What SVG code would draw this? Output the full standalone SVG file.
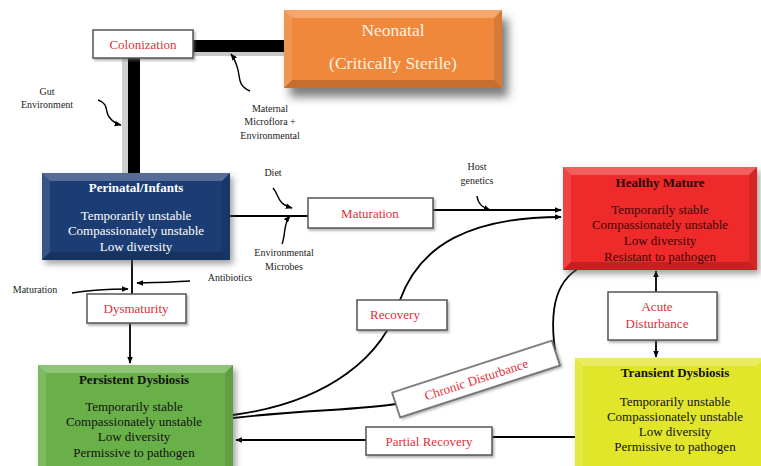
<svg xmlns="http://www.w3.org/2000/svg" width="761" height="466" viewBox="0 0 761 466" font-family="'Liberation Serif', 'DejaVu Serif', serif">
<defs>
<filter id="sh" x="-10%" y="-10%" width="130%" height="140%"><feDropShadow dx="3" dy="4" stdDeviation="3" flood-color="#555" flood-opacity="0.55"/></filter>
<filter id="shBig" x="-10%" y="-20%" width="130%" height="160%"><feDropShadow dx="6" dy="9" stdDeviation="5" flood-color="#444" flood-opacity="0.7"/></filter>
<filter id="shSm" x="-10%" y="-20%" width="130%" height="160%"><feDropShadow dx="1.5" dy="2" stdDeviation="1.2" flood-color="#666" flood-opacity="0.5"/></filter>
<marker id="ah" viewBox="0 0 10 10" refX="9" refY="5" markerWidth="7" markerHeight="7" orient="auto-start-reverse" markerUnits="userSpaceOnUse"><path d="M0,1 L10,5 L0,9 Z" fill="#000"/></marker>
</defs>
<style>
text{font-family:"Liberation Serif","DejaVu Serif",serif;text-anchor:middle}
.lbl{fill:#E0303A;font-size:13px;font-family:"Liberation Serif","DejaVu Serif",serif}
.sm{fill:#222;font-size:10px;font-family:"Liberation Serif","DejaVu Serif",serif}
.wbox{fill:#fff;stroke:#555;stroke-width:1.5}
.ln{fill:none;stroke:#000;stroke-width:1.8}
.cv{fill:none;stroke:#000;stroke-width:1.4}
.hi{fill:#fff;opacity:.25}
.hi2{fill:#fff;opacity:.12}
.lo{fill:#000;opacity:.18}
.lo2{fill:#000;opacity:.1}
.t{font-size:13px;font-family:"Liberation Serif","DejaVu Serif",serif}
.tb{font-size:13px;font-weight:bold;font-family:"Liberation Serif","DejaVu Serif",serif}
.big{font-size:17.5px;fill:#FDF1E0;font-family:"Liberation Serif","DejaVu Serif",serif}
</style>
<rect width="761" height="466" fill="#fff"/>

<g id="connectors">
<rect x="122" y="56" width="6" height="118" fill="#cfcfcf"/>
<rect x="128" y="54" width="12" height="120" fill="#000"/>
<rect x="192" y="52" width="92" height="4" fill="#c8c8c8"/>
<rect x="192" y="40" width="92" height="12" fill="#000"/>
<path class="cv" d="M98,100 C110,104 104,112 110,118 C113,122 117,124 121,125" marker-end="url(#ah)"/>
<path class="cv" d="M250,91 C238,86 240,78 238,70 C236,62 234,58 231,54" marker-end="url(#ah)"/>
<line class="ln" x1="230" y1="216" x2="308" y2="216"/>
<path class="cv" d="M273,188 C280,196 276,203 292,208" marker-end="url(#ah)"/>
<path class="cv" d="M282,244 C286,234 283,224 290,216" marker-end="url(#ah)"/>
<line class="ln" x1="433" y1="210" x2="561" y2="210" marker-end="url(#ah)"/>
<path class="cv" d="M477,196 C478,204 482,207 490,210" marker-end="url(#ah)"/>
<line class="ln" x1="132" y1="260" x2="132" y2="294"/>
<path class="cv" d="M72,293 C90,290 105,289 128,289" marker-end="url(#ah)"/>
<path class="cv" d="M190,281 C170,282 155,283 137,283" marker-end="url(#ah)"/>
<line class="ln" x1="130" y1="323" x2="130" y2="363" marker-end="url(#ah)"/>
<path class="ln" d="M233,415 C330,402 385,355 400,300 C420,245 470,217 561,217" marker-end="url(#ah)"/>
<path class="ln" d="M233,418 C300,410 360,410 396,404"/>
<path class="ln" d="M555,350 C548,300 560,272 593,262" marker-end="url(#ah)"/>
<line class="ln" x1="656" y1="292" x2="656" y2="271" marker-end="url(#ah)"/>
<line class="ln" x1="656" y1="340" x2="656" y2="357" marker-end="url(#ah)"/>
<line class="ln" x1="575" y1="437" x2="492" y2="437"/>
<line class="ln" x1="366" y1="440" x2="236" y2="440" marker-end="url(#ah)"/>
</g>

<g id="neonatal">
<rect x="284" y="10" width="218" height="78" fill="#F0883A" filter="url(#shBig)"/>
<polygon class="hi" points="284,10 502,10 494,18 292,18"/>
<polygon class="hi2" points="284,10 292,18 292,80 284,88"/>
<polygon class="lo" points="284,88 292,80 494,80 502,88"/>
<polygon class="lo2" points="502,10 502,88 494,80 494,18"/>
<text class="big" x="393" y="36">Neonatal</text>
<text class="big" x="393" y="69">(Critically  Sterile)</text>
</g>

<g id="colonization">
<rect class="wbox" x="93" y="30" width="100" height="28" filter="url(#shSm)"/>
<text class="lbl" x="143" y="49">Colonization</text>
</g>

<g id="gut-env">
<text class="sm" x="47" y="95">Gut</text>
<text class="sm" x="47" y="108">Environment</text>
</g>
<g id="maternal">
<text class="sm" x="270" y="112">Maternal</text>
<text class="sm" x="270" y="125">Microflora +</text>
<text class="sm" x="270" y="139">Environmental</text>
</g>

<g id="perinatal">
<rect x="42" y="173" width="188" height="87" fill="#1F3C73" filter="url(#sh)"/>
<polygon class="hi" points="42,173 230,173 222,181 50,181"/>
<polygon class="hi2" points="42,173 50,181 50,252 42,260"/>
<polygon class="lo" points="42,260 50,252 222,252 230,260"/>
<polygon class="lo2" points="230,173 230,260 222,252 222,181"/>
<text class="tb" x="136" y="192" fill="#fff">Perinatal/Infants</text>
<text class="t" x="136" y="220" fill="#fff">Temporarily  unstable</text>
<text class="t" x="136" y="235" fill="#fff">Compassionately  unstable</text>
<text class="t" x="136" y="251" fill="#fff">Low diversity</text>
</g>

<g id="diet"><text class="sm" x="273" y="176">Diet</text></g>
<g id="env-microbes">
<text class="sm" x="284" y="256">Environmental</text>
<text class="sm" x="284" y="270">Microbes</text>
</g>
<g id="host-genetics">
<text class="sm" x="477" y="170">Host</text>
<text class="sm" x="477" y="184">genetics</text>
</g>

<g id="maturation-box">
<rect class="wbox" x="308" y="198" width="125" height="30" filter="url(#shSm)"/>
<text class="lbl" x="370" y="218">Maturation</text>
</g>

<g id="healthy">
<rect x="563" y="167" width="194" height="103" fill="#EE2A2A" filter="url(#sh)"/>
<polygon class="hi" points="563,167 757,167 749,175 571,175"/>
<polygon class="hi2" points="563,167 571,175 571,262 563,270"/>
<polygon class="lo" points="563,270 571,262 749,262 757,270"/>
<polygon class="lo2" points="757,167 757,270 749,262 749,175"/>
<text class="tb" x="660" y="187" fill="#2A0606">Healthy Mature</text>
<text class="t" x="660" y="214" fill="#3A0808">Temporarily  stable</text>
<text class="t" x="660" y="229" fill="#3A0808">Compassionately  unstable</text>
<text class="t" x="660" y="245" fill="#3A0808">Low diversity</text>
<text class="t" x="660" y="261" fill="#3A0808">Resistant to pathogen</text>
</g>

<g id="maturation-left"><text class="sm" x="35" y="293">Maturation</text></g>
<g id="antibiotics"><text class="sm" x="230" y="281">Antibiotics</text></g>

<g id="dysmaturity">
<rect class="wbox" x="87" y="294" width="99" height="29" filter="url(#shSm)"/>
<text class="lbl" x="136" y="313">Dysmaturity</text>
</g>

<g id="recovery">
<rect class="wbox" x="357" y="300" width="90" height="30" filter="url(#shSm)"/>
<text class="lbl" x="395" y="319">Recovery</text>
</g>

<g id="chronic">
<g transform="translate(476,379) rotate(-18)">
<rect class="wbox" x="-84" y="-13" width="168" height="26" filter="url(#shSm)"/>
<text class="lbl" x="0" y="5">Chronic Disturbance</text>
</g>
</g>

<g id="acute">
<rect class="wbox" x="608" y="292" width="109" height="48" filter="url(#shSm)"/>
<text class="lbl" x="657" y="311">Acute</text>
<text class="lbl" x="657" y="328">Disturbance</text>
</g>

<g id="persistent">
<rect x="38" y="365" width="195" height="105" fill="#6AB04A" filter="url(#sh)"/>
<polygon class="hi" points="38,365 233,365 225,373 46,373"/>
<polygon class="hi2" points="38,365 46,373 46,470 38,470"/>
<polygon class="lo2" points="233,365 233,470 225,470 225,373"/>
<text class="tb" x="134" y="384" fill="#111">Persistent Dysbiosis</text>
<text class="t" x="134" y="411" fill="#111">Temporarily  stable</text>
<text class="t" x="134" y="426" fill="#111">Compassionately  unstable</text>
<text class="t" x="134" y="441" fill="#111">Low diversity</text>
<text class="t" x="134" y="457" fill="#111">Permissive to pathogen</text>
</g>

<g id="transient">
<rect x="575" y="358" width="190" height="112" fill="#E2E62C" filter="url(#sh)"/>
<polygon class="hi" points="575,358 765,358 757,366 583,366"/>
<polygon class="hi2" points="575,358 583,366 583,470 575,470"/>
<text class="tb" x="675" y="377" fill="#111">Transient Dysbiosis</text>
<text class="t" x="675" y="406" fill="#111">Temporarily  unstable</text>
<text class="t" x="675" y="421" fill="#111">Compassionately  unstable</text>
<text class="t" x="675" y="436" fill="#111">Low diversity</text>
<text class="t" x="675" y="451" fill="#111">Permissive to pathogen</text>
</g>

<g id="partial-recovery">
<rect class="wbox" x="366" y="427" width="126" height="28" filter="url(#shSm)"/>
<text class="lbl" x="429" y="446">Partial Recovery</text>
</g>
</svg>
